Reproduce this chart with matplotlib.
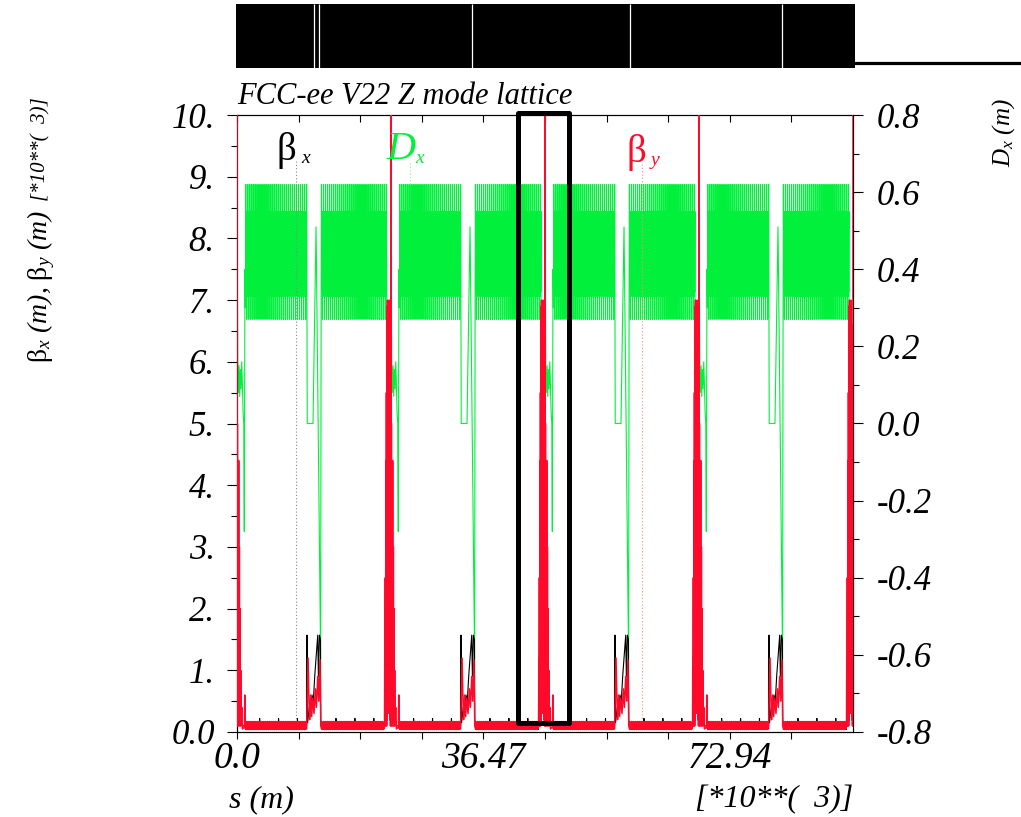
import numpy as np
import matplotlib
matplotlib.use("Agg")
import matplotlib.pyplot as plt
from matplotlib.patches import Rectangle
from matplotlib.lines import Line2D

# ---------------- data (s in units of 10^3 m) ----------------
circumference = 91.17
ip_s = [0.0, 22.79, 45.59, 68.38, 91.17]          # interaction points
ts_s = [11.40, 34.19, 56.98, 79.77]                # technical straight sections
arc_step = 0.05                                     # sampling step inside the arcs

# repeating arc-cell patterns
dx_arc_cell = [0.62, 0.34, 0.55, 0.27, 0.54, 0.33]                       # Dx (m)
betx_arc_cell = [0.16, 0.04, 0.15, 0.05, 0.16, 0.04, 0.15, 0.05, 0.16, 0.04,
                 0.15, 0.05, 0.16, 0.04, 0.15, 0.05, 0.16, 0.04, 0.15, 0.05,
                 0.16, 0.04, 0.15, 0.05, 0.16, 0.04, 0.15, 0.05, 0.16, 0.04,
                 0.15, 0.05, 0.16, 0.04, 0.15, 0.05, 0.16, 0.04, 0.15, 0.05,
                 0.16, 0.04, 0.22, 0.05, 0.16, 0.04, 0.15, 0.05, 0.16, 0.04,
                 0.15, 0.05, 0.16, 0.04, 0.15, 0.05]                        # beta_x (10^3 m)
bety_arc_cell = [0.05, 0.16, 0.04, 0.15, 0.05, 0.17]                       # beta_y (10^3 m)

# Dx around the IPs and the technical straights (offset, value)
dx_after_ip_off = [0.00, 0.02, 0.10, 0.20, 0.30, 0.40, 0.50, 0.60, 0.70, 0.80, 0.90, 1.00, 1.08, 1.18, 1.25]
dx_after_ip_val = [0.00, 0.54, 0.16, 0.08, 0.15, 0.07, 0.14, 0.09, 0.16, 0.10, 0.03, 0.00, -0.28, 0.40, 0.30]
dx_before_ip_off = [-0.60, -0.50, -0.42, -0.35, -0.28, -0.20, -0.12, -0.05, 0.00]
dx_before_ip_val = [0.30, -0.27, 0.05, 0.22, 0.10, 0.26, 0.08, 0.20, 0.00]
dx_ts_off = [-1.05, -1.00, -0.15, 0.30, 0.98, 1.05]
dx_ts_val = [0.30, 0.00, 0.00, 0.51, -0.61, 0.30]

# beta_y around the IPs and the technical straights
bety_after_ip_off = [0.00, 0.02, 0.06, 0.10, 0.15, 0.20, 0.25, 0.30, 0.35, 0.40, 0.45, 0.50, 0.55, 0.60, 0.70, 0.80, 1.10, 1.15, 1.20]
bety_after_ip_val = [10.5, 0.10, 5.00, 0.10, 4.40, 0.10, 4.40, 0.10, 3.00, 0.10, 2.00, 0.10, 1.00, 0.10, 0.40, 0.05, 0.08, 0.60, 0.08]
bety_before_ip_off = [-1.00, -0.96, -0.92, -0.88, -0.84, -0.80, -0.76, -0.72, -0.68, -0.64, -0.60, -0.56, -0.52,
                      -0.48, -0.44, -0.40, -0.36, -0.32, -0.28, -0.24, -0.20, -0.16, -0.12, -0.08, -0.04, -0.02, 0.00]
bety_before_ip_val = [0.10, 0.08, 1.20, 0.10, 2.50, 0.10, 4.40, 0.10, 5.50, 0.10, 6.90, 0.20, 7.00,
                      0.30, 6.80, 0.50, 6.90, 0.40, 7.00, 0.30, 6.60, 0.20, 5.00, 0.10, 4.40, 2.00, 10.5]
bety_ts_off = [-1.10, -0.88, -0.75, -0.65, -0.50, -0.35, -0.20, 0.00, 0.20, 0.35, 0.55, 0.70, 0.88, 1.00, 1.10]
bety_ts_val = [0.05, 1.20, 0.50, 0.20, 0.60, 0.25, 0.55, 0.30, 0.70, 0.40, 0.90, 0.50, 1.17, 0.10, 0.05]

# beta_x around the IPs and the technical straights
betx_after_ip_off = [0.00, 0.10, 0.20, 0.30, 0.40, 0.60, 0.80, 1.20]
betx_after_ip_val = [0.10, 0.80, 0.20, 1.50, 0.20, 0.30, 0.10, 0.10]
betx_before_ip_off = [-1.00, -0.80, -0.60, -0.50, -0.40, -0.30, -0.20, -0.10, 0.00]
betx_before_ip_val = [0.10, 0.50, 2.00, 0.30, 3.00, 0.30, 2.00, 0.30, 0.10]
betx_ts_off = [-1.10, -1.04, -0.95, -0.70, -0.50, -0.30, -0.10, 0.10, 0.30, 0.55, 0.65, 0.80, 0.95, 1.00, 1.10]
betx_ts_val = [0.10, 1.57, 0.15, 0.40, 0.30, 0.60, 0.50, 0.90, 1.20, 1.57, 0.90, 1.57, 1.50, 0.20, 0.10]

# top lattice-layout bar: white gaps
layout_gaps = [11.40, 12.14, 34.78, 58.16, 80.66]

# axis ticks
x_ticks = [0.0, 9.1175, 18.235, 27.3525, 36.47, 45.5875, 54.705, 63.8225, 72.94, 82.0575, 91.175]
x_ticklabels = ["0.0", "", "", "", "36.47", "", "", "", "72.94", "", ""]
beta_ticks = [0, 1, 2, 3, 4, 5, 6, 7, 8, 9, 10]
beta_ticklabels = ["0.0", "1.", "2.", "3.", "4.", "5.", "6.", "7.", "8.", "9.", "10."]
dx_ticks = [-0.8, -0.6, -0.4, -0.2, 0.0, 0.2, 0.4, 0.6, 0.8]
dx_ticklabels = ["-0.8", "-0.6", "-0.4", "-0.2", "0.0", "0.2", "0.4", "0.6", "0.8"]

# highlighted window (s range, beta range)
box_s = [41.66, 49.20]
box_b = [0.14, 10.04]

# label pointer positions
betx_label_s = 8.73
dx_label_s = 25.6
bety_label_s = 59.94


def build(after_off, after_val, ts_off, ts_val, before_off, before_val, cell):
    s_parts, v_parts = [], []
    for k in range(len(ts_s)):
        ip0, ts, ip1 = ip_s[k], ts_s[k], ip_s[k + 1]
        s_parts.append(ip0 + np.array(after_off)); v_parts.append(np.array(after_val))
        sa = np.arange(ip0 + after_off[-1] + arc_step, ts + ts_off[0], arc_step)
        s_parts.append(sa); v_parts.append(np.resize(np.array(cell), len(sa)))
        s_parts.append(ts + np.array(ts_off)); v_parts.append(np.array(ts_val))
        sb = np.arange(ts + ts_off[-1] + arc_step, ip1 + before_off[0], arc_step)
        s_parts.append(sb); v_parts.append(np.resize(np.array(cell), len(sb)))
        s_parts.append(ip1 + np.array(before_off)); v_parts.append(np.array(before_val))
    return np.concatenate(s_parts), np.concatenate(v_parts)


s_dx, dx = build(dx_after_ip_off, dx_after_ip_val, dx_ts_off, dx_ts_val,
                 dx_before_ip_off, dx_before_ip_val, dx_arc_cell)
s_bx, betx = build(betx_after_ip_off, betx_after_ip_val, betx_ts_off, betx_ts_val,
                   betx_before_ip_off, betx_before_ip_val, betx_arc_cell)
s_by, bety = build(bety_after_ip_off, bety_after_ip_val, bety_ts_off, bety_ts_val,
                   bety_before_ip_off, bety_before_ip_val, bety_arc_cell)

# ---------------- styling ----------------
plt.rcParams["font.family"] = ["Liberation Serif", "DejaVu Serif"]
plt.rcParams["mathtext.fontset"] = "custom"
plt.rcParams["mathtext.rm"] = "Liberation Serif"
plt.rcParams["mathtext.it"] = "Liberation Serif:italic"

GREEN = "#00f03c"
RED = "#ff0a2a"

W, H = 1021, 817
fig = plt.figure(figsize=(W / 100, H / 100), dpi=100)

L, R, T, B = 237, 853, 115, 732
ax_d = fig.add_axes([L / W, 1 - B / H, (R - L) / W, (B - T) / H])
ax_b = ax_d.twinx()

# Dx on the right scale
ax_d.plot(s_dx, dx, color=GREEN, lw=0.8, zorder=2)
ax_d.set_ylim(-0.8, 0.8)
ax_d.set_xlim(0, circumference)
ax_d.yaxis.tick_right()
ax_d.set_yticks(dx_ticks)
ax_d.set_yticklabels(dx_ticklabels)
ax_d.set_yticks(np.arange(-0.7, 0.8, 0.2), minor=True)
ax_d.set_xticks(x_ticks)
ax_d.set_xticklabels(x_ticklabels)

# betas on the left scale
ax_b.plot(s_bx, betx, color="black", lw=0.8, zorder=2)
ax_b.plot(s_by, bety, color=RED, lw=1.1, zorder=3)
ax_b.set_ylim(0, 10)
ax_b.set_xlim(0, circumference)
ax_b.yaxis.tick_left()
ax_b.set_yticks(beta_ticks)
ax_b.set_yticklabels(beta_ticklabels)
ax_b.set_yticks(np.arange(0.5, 10, 1.0), minor=True)
ax_b.xaxis.set_visible(True)
ax_b.tick_params(axis="x", bottom=False, top=True, labelbottom=False, labeltop=False,
                 direction="in", length=5, width=0.8)

fp_y = matplotlib.font_manager.FontProperties(family="Liberation Serif", style="italic", size=25)
fp_x = matplotlib.font_manager.FontProperties(family="Liberation Serif", style="italic", size=27)
for lab in ax_b.get_yticklabels() + ax_d.get_yticklabels():
    lab.set_fontproperties(fp_y)
for lab in ax_d.get_xticklabels():
    lab.set_fontproperties(fp_x)

ax_b.tick_params(axis="y", which="major", direction="out", length=7, width=0.8, pad=9)
ax_b.tick_params(axis="y", which="minor", direction="out", length=4, width=0.8)
ax_d.tick_params(axis="y", which="major", direction="out", length=7, width=0.8, pad=10)
ax_d.tick_params(axis="y", which="minor", direction="out", length=4, width=0.8)
ax_d.tick_params(axis="x", which="major", direction="out", length=5, width=0.8, pad=2)
for a in (ax_d, ax_b):
    for sp in a.spines.values():
        sp.set_linewidth(0.8)

# label pointers (dotted)
ax_b.plot([betx_label_s, betx_label_s], [9.25, 0.15], ls=(0, (1, 2)), color="#888888", lw=0.8)
ax_b.plot([bety_label_s, bety_label_s], [9.2, 0.15], ls=(0, (1, 2)), color="#ff8a8a", lw=0.8)
ax_d.plot([dx_label_s, dx_label_s], [0.675, 0.62], ls=(0, (1, 2)), color="#8af08a", lw=0.8)

# curve labels
ax_b.text(0.0795, 0.942, "β", transform=ax_b.transAxes, ha="center", va="center",
          fontsize=28, color="black")
ax_b.text(0.111, 0.929, "x", transform=ax_b.transAxes, ha="center", va="center",
          fontsize=14, style="italic", color="black")
ax_b.text(0.267, 0.944, "D", transform=ax_b.transAxes, ha="center", va="center",
          fontsize=29, style="italic", color=GREEN)
ax_b.text(0.297, 0.929, "x", transform=ax_b.transAxes, ha="center", va="center",
          fontsize=14, style="italic", color=GREEN)
ax_b.text(0.648, 0.940, "β", transform=ax_b.transAxes, ha="center", va="center",
          fontsize=28, color=RED)
ax_b.text(0.679, 0.927, "y", transform=ax_b.transAxes, ha="center", va="center",
          fontsize=14, style="italic", color=RED)

# highlight window
ax_b.add_patch(Rectangle((box_s[0], box_b[0]), box_s[1] - box_s[0], box_b[1] - box_b[0],
                         fill=False, ec="black", lw=3.6, joinstyle="round",
                         clip_on=False, zorder=10))

# title and axis labels
fig.text(L / W, 1 - 104 / H, "FCC-ee V22 Z mode lattice", fontsize=22, style="italic",
         ha="left", va="baseline")
fig.text(41 / W, 1 - 286 / H, r"$\mathrm{\beta}_{x}$ (m), $\mathrm{\beta}_{y}$ (m)",
         rotation=90, fontsize=20, style="italic", ha="center", va="center")
fig.text(41 / W, 1 - 149 / H, "[*10**(  3)]", rotation=90, fontsize=15, style="italic",
         ha="center", va="center")
fig.text(1004 / W, 1 - 133 / H, r"$D_{x}$ (m)", rotation=90, fontsize=18, style="italic",
         ha="center", va="center")
fig.text(229 / W, 1 - 800 / H, "s (m)", fontsize=23, style="italic", ha="left", va="center")
fig.text(853 / W, 1 - 800 / H, "[*10**(  3)]", fontsize=23, style="italic", ha="right", va="center")

# top layout bar
ax_top = fig.add_axes([236 / W, 1 - 68 / H, (855 - 236) / W, 64 / H])
ax_top.set_xlim(-0.148, 91.47)
ax_top.set_ylim(0, 1)
ax_top.axvspan(0 - 0.148, circumference + 0.3, color="black", lw=0)
ax_top.vlines(layout_gaps, 0, 1, color="white", lw=0.9)
ax_top.axis("off")
fig.add_artist(Line2D([855 / W, 1.0], [1 - 62.5 / H, 1 - 62.5 / H], color="black", lw=2.3,
                      transform=fig.transFigure))

fig.savefig("out.png", dpi=100)
